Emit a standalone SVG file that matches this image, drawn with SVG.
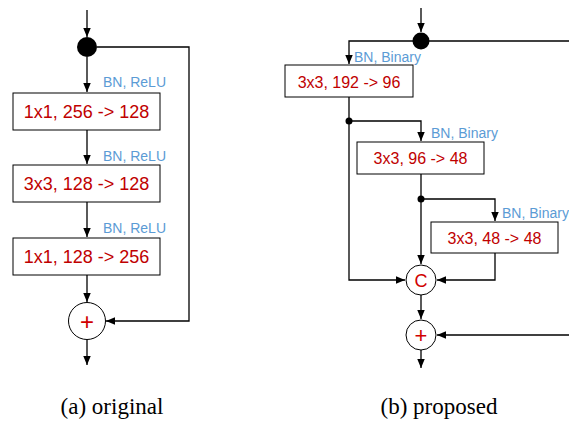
<svg xmlns="http://www.w3.org/2000/svg" width="569" height="422" viewBox="0 0 569 422">
<style>
.ln{fill:none;stroke:#000;stroke-width:1.3}
.box{fill:#fff;stroke:#000;stroke-width:1}
.circ{fill:#fff;stroke:#000;stroke-width:1}
.bt{font-family:"Liberation Sans",Arial,sans-serif;fill:#c00000;text-anchor:middle}
.lb{font-family:"Liberation Sans",Arial,sans-serif;font-size:14px;fill:#5b9bd5}
.op{font-family:"Liberation Sans",Arial,sans-serif;fill:#d00000;text-anchor:middle}
.cap{font-family:"Liberation Serif","Times New Roman",serif;font-size:23px;fill:#000;text-anchor:middle}
</style>
<defs>
<marker id="ah" markerUnits="userSpaceOnUse" markerWidth="10" markerHeight="8" refX="9" refY="3.75" orient="auto">
<path d="M0,0 L9,3.75 L0,7.5 z" fill="#000"/>
</marker>
</defs>
<g id="connectors">
<path class="ln" d="M87 10 V37" marker-end="url(#ah)"/>
<path class="ln" d="M87 57 V92" marker-end="url(#ah)"/>
<path class="ln" d="M97 47 H189 V321 H106" marker-end="url(#ah)"/>
<path class="ln" d="M87 130 V164" marker-end="url(#ah)"/>
<path class="ln" d="M87 202 V237" marker-end="url(#ah)"/>
<path class="ln" d="M87 275 V302" marker-end="url(#ah)"/>
<path class="ln" d="M87 339.5 V365" marker-end="url(#ah)"/>
<path class="ln" d="M421 8 V32" marker-end="url(#ah)"/>
<path class="ln" d="M421 41 H569"/>
<path class="ln" d="M421 41 H349 V64" marker-end="url(#ah)"/>
<path class="ln" d="M349 97 V280 H405" marker-end="url(#ah)"/>
<path class="ln" d="M349 121 H421 V141" marker-end="url(#ah)"/>
<path class="ln" d="M421 174 V264" marker-end="url(#ah)"/>
<path class="ln" d="M421 199 H495 V221" marker-end="url(#ah)"/>
<path class="ln" d="M495 253 V280 H437" marker-end="url(#ah)"/>
<path class="ln" d="M421 295 V319" marker-end="url(#ah)"/>
<path class="ln" d="M569 335 H437" marker-end="url(#ah)"/>
<path class="ln" d="M421 350 V368" marker-end="url(#ah)"/>
<circle cx="349" cy="121" r="3.5" fill="#000"/>
<circle cx="421" cy="199" r="3.5" fill="#000"/>
</g>
<g id="a-split"><circle cx="87" cy="47" r="10" fill="#000"/></g>
<g id="a-conv1">
<rect class="box" x="13" y="93" width="147" height="37"/>
<text class="bt" x="86.5" y="118" font-size="18">1x1, 256 -&gt; 128</text>
<text class="lb" x="103" y="87">BN, ReLU</text>
</g>
<g id="a-conv2">
<rect class="box" x="13" y="165" width="147" height="37"/>
<text class="bt" x="86.5" y="190" font-size="18">3x3, 128 -&gt; 128</text>
<text class="lb" x="103" y="161">BN, ReLU</text>
</g>
<g id="a-conv3">
<rect class="box" x="13" y="238" width="147" height="37"/>
<text class="bt" x="86.5" y="263" font-size="18">1x1, 128 -&gt; 256</text>
<text class="lb" x="103" y="233">BN, ReLU</text>
</g>
<g id="a-add">
<circle class="circ" cx="87" cy="321" r="18.5"/>
<text class="op" x="87" y="329.5" font-size="24">+</text>
</g>
<text class="cap" x="112" y="414">(a) original</text>
<g id="b-split"><circle cx="421" cy="41" r="8.5" fill="#000"/></g>
<g id="b-conv1">
<rect class="box" x="285" y="65" width="128" height="32"/>
<text class="bt" x="349" y="87.5" font-size="16">3x3, 192 -&gt; 96</text>
<text class="lb" x="354" y="62">BN, Binary</text>
</g>
<g id="b-conv2">
<rect class="box" x="357" y="142" width="127" height="32"/>
<text class="bt" x="420.5" y="164" font-size="16">3x3, 96 -&gt; 48</text>
<text class="lb" x="431" y="138">BN, Binary</text>
</g>
<g id="b-conv3">
<rect class="box" x="431" y="222" width="127" height="31"/>
<text class="bt" x="494.5" y="243.5" font-size="16">3x3, 48 -&gt; 48</text>
<text class="lb" x="502" y="218">BN, Binary</text>
</g>
<g id="b-concat">
<circle class="circ" cx="421" cy="280" r="15"/>
<text class="op" x="421" y="286.5" font-size="18">C</text>
</g>
<g id="b-add">
<circle class="circ" cx="421" cy="335" r="15"/>
<text class="op" x="421" y="343" font-size="22">+</text>
</g>
<text class="cap" x="439" y="414">(b) proposed</text>
</svg>
